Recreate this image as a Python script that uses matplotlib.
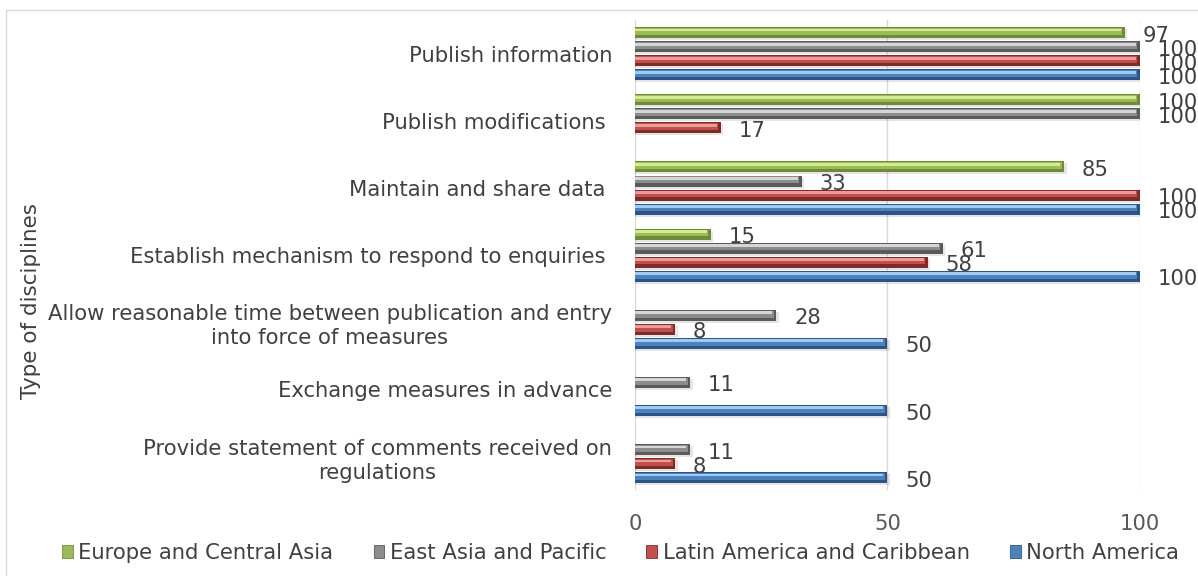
import numpy as np
import matplotlib
matplotlib.use("Agg")
import matplotlib.pyplot as plt
from matplotlib.patches import Rectangle, Patch

plt.rcParams["font.family"] = ["DejaVu Sans"]

# ── Data (bottom to top) ─────────────────────────────────────────────────────
CATEGORIES = [
    "Provide statement of comments received on\nregulations",
    "Exchange measures in advance",
    "Allow reasonable time between publication and entry\ninto force of measures",
    "Establish mechanism to respond to enquiries ",
    "Maintain and share data ",
    "Publish modifications ",
    "Publish information",
]
EUROPE    = [np.nan, np.nan, np.nan, 15, 85, 100, 97]
EAST_ASIA = [11, 11, 28, 61, 33, 100, 100]
LATAM     = [8, np.nan, 8, 58, 100, 17, 100]
NORTH_AM  = [50, 50, 50, 100, 100, np.nan, 100]

SERIES = [
    ("Europe and Central Asia",      EUROPE,    "#9BBB59", "#D2EC8E", "#6E8A3A"),
    ("East Asia and Pacific",        EAST_ASIA, "#8C8C8C", "#D6D6D6", "#5A5A5A"),
    ("Latin America and Caribbean",  LATAM,     "#C0504D", "#EE9A97", "#7E2B28"),
    ("North America",                NORTH_AM,  "#4F81BD", "#9CCBF5", "#2C5587"),
]

STEP = 0.209
H    = 0.164
TXT  = "#404040"
FS   = 15.2

fig = plt.figure(figsize=(11.98, 5.76), dpi=100)
ax = fig.add_axes([0.530, 0.149, 0.4215, 0.816])

y = np.arange(len(CATEGORIES))
for i, (name, vals, base, light, dark) in enumerate(SERIES):
    off = (1.5 - i) * STEP
    v = np.array(vals, dtype=float)
    m = ~np.isnan(v)
    yy = y[m] + off
    vv = v[m]
    # soft shadow, dark rim, body, highlight
    ax.barh(yy - 0.03, vv + 0.5, height=H, color="#000000", alpha=0.10, lw=0, zorder=2)
    ax.barh(yy, vv, height=H, color=dark, lw=0, zorder=3)
    ax.barh(yy + H * 0.1, vv - 0.5, height=H * 0.62, color=base, lw=0, zorder=4)
    ax.barh(yy + H * 0.24, vv - 0.8, height=H * 0.26, color=light, lw=0, zorder=5)
    for yv, xv in zip(yy, vv):
        ax.text(xv + 3.5, yv - 0.045, f"{xv:.0f}", fontsize=FS, color=TXT,
                ha="left", va="center", zorder=6)

ax.set_xlim(0, 100)
ax.set_ylim(-0.5, len(CATEGORIES) - 0.5)
ax.set_xticks([0, 50, 100])
ax.set_yticks(y)
ax.set_yticklabels(CATEGORIES, fontsize=FS, color=TXT, multialignment="center",
                   linespacing=1.25)
ax.tick_params(axis="y", length=0, pad=16.5)
ax.tick_params(axis="x", length=0, pad=17, labelsize=FS, labelcolor="#595959")
ax.grid(axis="x", color="#D9D9D9", lw=1, zorder=0)
ax.set_axisbelow(True)
for s in ax.spines.values():
    s.set_visible(False)

fig.text(0.026, 0.477, "Type of disciplines", rotation=90, fontsize=15.5,
         color=TXT, ha="center", va="center")

handles = [Patch(facecolor=s[2], edgecolor=s[4], lw=0.6) for s in SERIES]
fig.legend(handles, [s[0] for s in SERIES], loc="center", ncol=4,
           bbox_to_anchor=(0.518, 0.04), frameon=False, fontsize=FS,
           handlelength=0.52, handleheight=0.52, handletextpad=0.25,
           columnspacing=1.9, labelcolor=TXT, borderpad=0)

fig.patches.append(Rectangle((0.005, -0.01), 1.2, 0.993, transform=fig.transFigure,
                             fill=False, edgecolor="#D9D9D9", lw=1))

fig.savefig("out.png", dpi=100)
